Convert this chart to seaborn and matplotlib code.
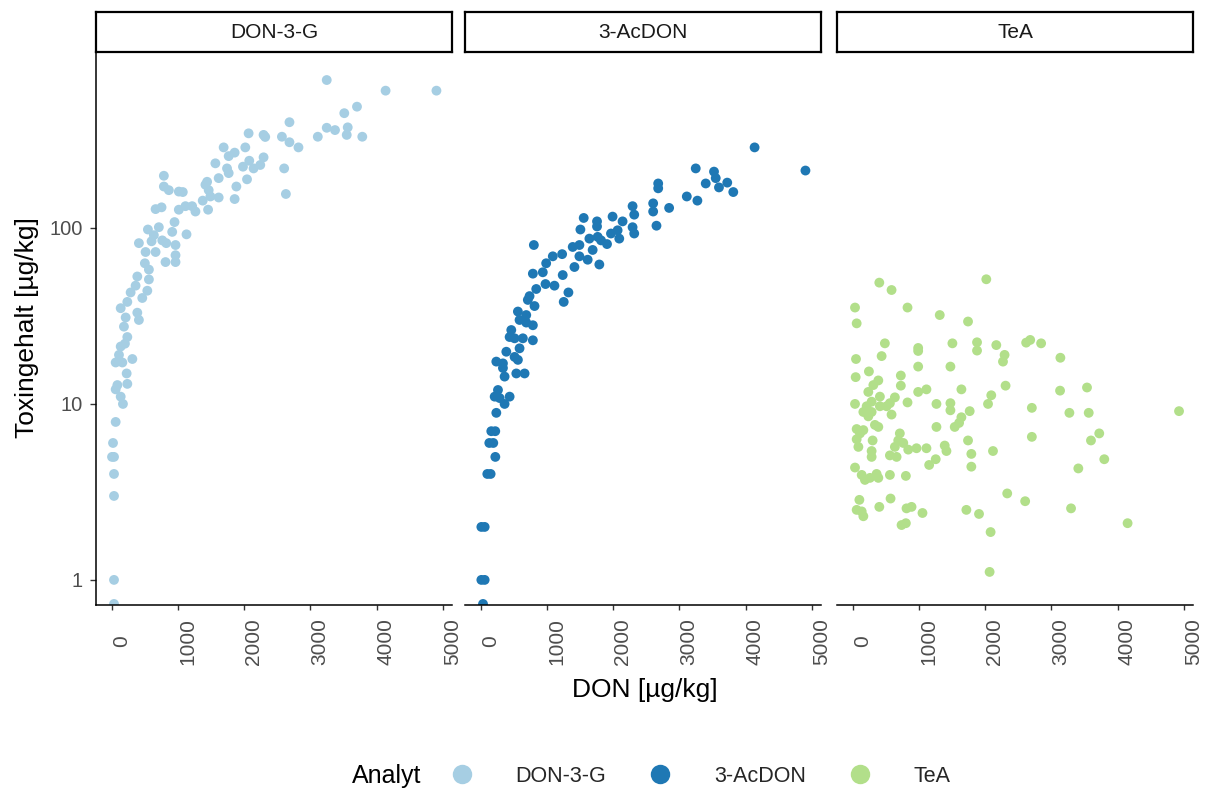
import matplotlib
matplotlib.use("Agg")
import matplotlib.pyplot as plt
import seaborn as sns
import pandas as pd
from matplotlib.lines import Line2D
from matplotlib.ticker import NullLocator

sns.set_theme(style="white")
plt.rcParams['font.family'] = ['Liberation Sans', 'DejaVu Sans']

# ---------------- data ----------------
analytes = ["DON-3-G", "3-AcDON", "TeA"]
colors = ["#A6CEE3", "#1F78B4", "#B2DF8A"]
x_ticks = [0, 1000, 2000, 3000, 4000, 5000]
x_tick_labels = ["0", "1000", "2000", "3000", "4000", "5000"]
y_ticks = [1, 10, 100]
y_tick_labels = ["1", "10", "100"]

don3g_don = [3248, 4137, 4905, 3705, 3513, 2685, 3248, 3373, 3565, 3550, 3785, 3113,
             2068, 2294, 2319, 2571, 2685, 2821, 1691, 2018, 1767, 1857, 1566, 2078,
             2294, 2244, 2143, 1983, 2605, 1742, 1767, 1616, 2044, 1883, 2631, 1857,
             1441, 1416, 1465, 1491, 1616, 1375, 788, 788, 863, 1014, 1074, 663, 753,
             1014, 1114, 1215, 1265, 1456, 949, 914, 1130, 547, 712, 637, 764, 824,
             964, 411, 602, 512, 663, 964, 964, 813, 501, 562, 387, 562, 538, 462,
             361, 286, 236, 136, 387, 411, 211, 185, 236, 200, 136, 110, 60, 161, 312,
             226, 86, 236, 60, 136, 170, 60, 20, 35, 5, 35, 35, 35, 35]
don3g_tox = [693, 603, 603, 489, 449, 399, 371, 360, 373, 338, 330, 330,
             345, 338, 329, 330, 307, 287, 287, 287, 256, 268, 233, 241,
             252, 228, 218, 223, 218, 218, 205, 192, 189, 172, 156, 146,
             183, 176, 164, 151, 149, 143, 198, 172, 164, 161, 160, 128, 131,
             127, 133, 133, 124, 127, 108, 95, 92, 98, 101, 91, 85, 82,
             80, 82, 84, 73, 73, 70, 64, 64, 63, 58, 53, 51, 44, 40,
             47, 43, 38, 35, 33, 30, 31, 27.5, 24, 22, 21.2, 19, 17.2, 17.2, 18,
             14.9, 12.8, 13, 12.1, 11, 10, 7.9, 6, 5, 5, 4, 3, 1, 0.73]

acdon_don = [4137, 4905, 3248, 3524, 3550, 3399, 3599, 3724, 3815, 2681, 2681, 3113,
             3273, 2294, 2319, 2605, 2605, 2846, 2655, 1992, 2143, 2068, 2093, 2294,
             2319, 1968, 1556, 1757, 1757, 1506, 1642, 1767, 1908, 1818, 803, 1390,
             1491, 1691, 1491, 1616, 1416, 1792, 1089, 1230, 989, 938, 788, 1239,
             979, 1114, 1325, 1254, 839, 738, 712, 813, 562, 688, 587, 688, 788,
             462, 437, 512, 637, 788, 587, 387, 236, 336, 562, 361, 538, 663, 512,
             336, 261, 211, 286, 437, 361, 236, 160, 220, 130, 190, 221, 100, 150,
             10, 60, 10, 60, 35]
acdon_tox = [287, 212, 218, 209, 192, 179, 170, 181, 160, 179, 168, 151,
             143, 133, 119, 138, 124, 130, 103, 116, 109, 97, 87, 101,
             93, 93, 114, 109, 102, 98, 87, 89, 81, 85, 80, 78,
             80, 75, 69, 66, 60, 62, 69, 71, 63, 56, 55, 54,
             48, 47, 43, 38, 45, 41, 39, 36, 33.5, 32, 30, 29, 28,
             26.3, 24, 23.6, 23.6, 23, 20.7, 19.8, 17.4, 17, 17.8, 14.3, 14.9, 14.9, 18.5,
             16, 12.0, 11, 10.8, 11, 10, 8.9, 7.0, 7.0, 6.0, 6.0, 5.0, 4.0, 4.0,
             2.0, 2.0, 1.0, 1.0, 0.73]

tea_don = [402, 587, 2018, 35, 60, 828, 1315, 1742, 486, 989, 989, 1506, 1878, 1878,
           2169, 2620, 2681, 2846, 2294, 2270, 437, 3137, 50, 989, 1476, 245, 727, 45,
           387, 312, 236, 411, 286, 727, 989, 1114, 1642, 2309, 2093, 2044, 3132, 3539,
           637, 562, 512, 587, 411, 211, 35, 161, 236, 286, 828, 1265, 1476, 1476, 1767,
           2706, 3273, 3565, 4929, 336, 387, 60, 110, 161, 60, 86, 301, 712, 688, 764,
           637, 839, 964, 1114, 562, 663, 286, 286, 1265, 1541, 1642, 1607, 1390, 1416,
           1742, 1792, 1792, 2119, 1254, 1155, 2706, 3599, 3724, 3800, 3408, 35, 136,
           185, 261, 361, 387, 562, 803, 2334, 2605, 3298, 101, 60, 136, 161, 402, 572,
           813, 889, 1054, 1717, 1908, 738, 803, 2083, 4152, 2068]
tea_tox = [48.9, 44.4, 51.1, 35.3, 28.7, 35.3, 32, 29.4, 22.1, 20.8, 20.0, 22.1, 22.4, 20.1,
           21.6, 22.3, 23.1, 22.1, 19, 17.4, 18.7, 18.3, 18, 16.3, 16.3, 15.3, 14.5, 14.2,
           13.6, 12.8, 11.7, 11, 10.3, 12.7, 11.7, 12.1, 12.1, 12.7, 11.2, 10, 11.9, 12.4,
           10.9, 10.1, 9.7, 8.7, 9.7, 9.7, 10, 9.0, 8.5, 9.0, 10.2, 10, 10.1, 9.2, 9.1,
           9.5, 8.9, 8.9, 9.1, 7.6, 7.4, 7.2, 6.8, 7.1, 6.3, 5.7, 6.2, 6.8, 6.2, 6.0,
           5.7, 5.5, 5.6, 5.6, 5.1, 5.0, 5.4, 5.0, 7.4, 7.4, 8.4, 7.8, 5.8, 5.4,
           6.2, 5.2, 4.4, 5.4, 4.85, 4.5, 6.5, 6.2, 6.8, 4.85, 4.3, 4.35, 3.95,
           3.7, 3.8, 4.0, 3.8, 3.95, 3.9, 3.1, 2.8, 2.55, 2.85, 2.5, 2.45, 2.3, 2.6, 2.9,
           2.55, 2.6, 2.4, 2.5, 2.37, 2.05, 2.1, 1.87, 2.1, 1.11]

frames = []
for name, xs, ys in zip(analytes, [don3g_don, acdon_don, tea_don],
                        [don3g_tox, acdon_tox, tea_tox]):
    frames.append(pd.DataFrame({"DON": xs, "Toxingehalt": ys, "Analyt": name}))
df = pd.concat(frames, ignore_index=True)
palette = dict(zip(analytes, colors))

# ---------------- layout ----------------
W, H = 1210, 791
fig = plt.figure(figsize=(W / 100, H / 100), dpi=100)
fig.patch.set_facecolor("white")

panel_left = [96, 465, 837]
panel_w = 356
panel_top, panel_bottom = 52, 605
strip_top = 12

tick_col = "#333333"
lab_col = "#4D4D4D"

for i, name in enumerate(analytes):
    ax = fig.add_axes([panel_left[i] / W, 1 - panel_bottom / H,
                       panel_w / W, (panel_bottom - panel_top) / H])
    sub = df[df["Analyt"] == name]
    sns.scatterplot(data=sub, x="DON", y="Toxingehalt", hue="Analyt",
                    palette=palette, hue_order=analytes, s=50, linewidth=0,
                    alpha=1, ax=ax, legend=False)
    ax.set_yscale("log")
    ax.set_xlim(-237, 5140)
    ax.set_ylim(0.72, 1000)
    ax.set_facecolor("white")
    ax.grid(False)
    ax.set_xlabel("")
    ax.set_ylabel("")
    for s in ["top", "right"]:
        ax.spines[s].set_visible(False)
    ax.spines["bottom"].set_linewidth(1.1)
    ax.spines["bottom"].set_color("black")
    ax.spines["left"].set_linewidth(1.1)
    ax.spines["left"].set_color("black")
    ax.set_xticks(x_ticks)
    ax.set_xticklabels(x_tick_labels)
    ax.yaxis.set_minor_locator(NullLocator())
    ax.set_yticks(y_ticks)
    ax.set_yticklabels(y_tick_labels)
    ax.yaxis.set_minor_locator(NullLocator())
    ax.tick_params(axis="x", bottom=True, length=3.6, width=1.0, color=tick_col,
                   labelsize=15, labelcolor=lab_col, pad=22.5)
    ax.tick_params(axis="y", left=True, length=4.5, width=1.0, color=tick_col,
                   labelsize=14.5, labelcolor=lab_col, pad=5)
    for lab in ax.get_xticklabels():
        lab.set_rotation(90)
        lab.set_ha("left")
        lab.set_va("center")
    if i > 0:
        ax.spines["left"].set_visible(False)
        ax.tick_params(axis="y", left=False, labelleft=False)

    # facet strip
    sax = fig.add_axes([panel_left[i] / W, 1 - panel_top / H,
                        panel_w / W, (panel_top - strip_top) / H])
    sax.set_xticks([])
    sax.set_yticks([])
    sax.set_facecolor("white")
    for s in sax.spines.values():
        s.set_visible(True)
        s.set_linewidth(1.6)
        s.set_color("black")
    sax.text(0.5, 0.5, name, ha="center", va="center", fontsize=15,
             color="#1A1A1A", transform=sax.transAxes)

# axis titles
fig.text(645 / W, 1 - 690 / H, "DON [µg/kg]", ha="center", va="center",
         fontsize=19, color="black")
fig.text(27 / W, 1 - 328 / H, "Toxingehalt [µg/kg]", ha="center", va="center",
         rotation=90, fontsize=19, color="black")

# legend
fig.text(352 / W, 1 - 776 / H, "Analyt", ha="left", va="center", fontsize=18,
         color="black")
handles = [Line2D([0], [0], marker="o", linestyle="", markersize=14,
                  markerfacecolor=c, markeredgewidth=0) for c in colors]
fig.legend(handles=handles, labels=analytes, loc="center left",
           bbox_to_anchor=(451 / W, 1 - 776 / H), ncol=3, frameon=False,
           fontsize=15.5, handlelength=1.0, handletextpad=2.0,
           columnspacing=2.0, borderpad=0, borderaxespad=0)

fig.savefig("out.png", dpi=100, facecolor="white")
